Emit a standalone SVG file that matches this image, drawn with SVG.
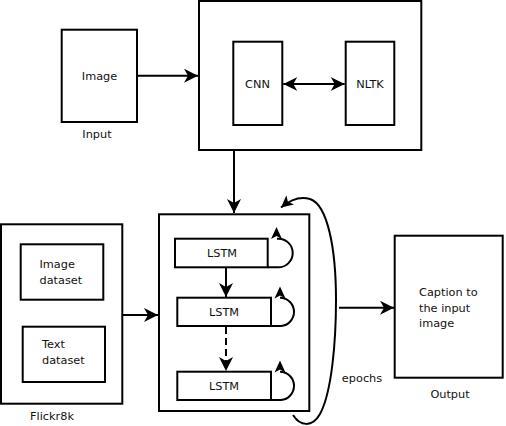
<svg xmlns="http://www.w3.org/2000/svg" xmlns:xlink="http://www.w3.org/1999/xlink" width="506" height="426" viewBox="0 0 506 426">
<style>
.box{fill:#fff;stroke:#000;stroke-width:2}
.frame{fill:none;stroke:#000;stroke-width:2}
.ln{fill:none;stroke:#000;stroke-width:2}
text{font-family:"DejaVu Sans",Verdana,sans-serif;font-size:11.3px;fill:#111}
.c{text-anchor:middle}
</style>
<defs>
<marker id="ah" markerUnits="userSpaceOnUse" viewBox="0 0 14 14" markerWidth="14" markerHeight="14" refX="14" refY="7" orient="auto-start-reverse">
<path d="M0,0 L14,7 L0,14 L4,7 z" fill="#000"/>
</marker>
<marker id="ahs" markerUnits="userSpaceOnUse" viewBox="0 0 12 12" markerWidth="12" markerHeight="12" refX="12" refY="6" orient="auto">
<path d="M0,0 L12,6 L0,12 L3,6 z" fill="#000"/>
</marker>
<path id="loopHead" d="M0,0 L-5.5,12 L0,9 L5.5,12 z" fill="#000"/>
</defs>
<rect width="506" height="426" fill="#fff"/>
<g id="image">
<rect class="box" x="61.7" y="29.7" width="75.3" height="92.3"/>
<text class="c" x="99.5" y="79.5">Image</text>
</g>
<text class="c" x="97" y="138">Input</text>
<g id="encoder">
<rect class="frame" x="199" y="1" width="222.3" height="149"/>
</g>
<g id="cnn">
<rect class="box" x="233.3" y="41.7" width="49" height="83.3"/>
<text class="c" x="257.5" y="88">CNN</text>
</g>
<g id="nltk">
<rect class="box" x="345.7" y="41.7" width="48.6" height="83.3"/>
<text class="c" x="370" y="88">NLTK</text>
</g>
<g id="flickr8k">
<rect class="frame" x="1" y="224.3" width="121.3" height="179.4"/>
<text class="c" x="52" y="420">Flickr8k</text>
</g>
<g id="image-dataset">
<rect class="box" x="20.7" y="244.3" width="82.6" height="55.4"/>
<text x="39.5" y="268">Image</text>
<text x="39.5" y="284">dataset</text>
</g>
<g id="text-dataset">
<rect class="box" x="22.7" y="326.7" width="82.3" height="55.3"/>
<text x="42" y="348">Text</text>
<text x="42" y="364">dataset</text>
</g>
<g id="lstm-block">
<rect class="frame" x="159" y="214.3" width="150.3" height="196.7"/>
</g>
<g id="lstm1">
<rect class="box" x="175" y="238.7" width="92.7" height="28.6"/>
<text class="c" x="222" y="257">LSTM</text>
</g>
<g id="lstm2">
<rect class="box" x="177.3" y="297.7" width="93.7" height="28.3"/>
<text class="c" x="224" y="316">LSTM</text>
</g>
<g id="lstm3">
<rect class="box" x="177.3" y="371.7" width="93.7" height="28.3"/>
<text class="c" x="224" y="390">LSTM</text>
</g>
<text class="c" x="362" y="382">epochs</text>
<g id="output">
<rect class="box" x="394.7" y="235.7" width="108" height="142"/>
<text x="419" y="296">Caption to</text>
<text x="419" y="311.5">the input</text>
<text x="419" y="327">image</text>
</g>
<text class="c" x="450" y="398">Output</text>
<g id="connectors">
<path class="ln" d="M138 75.7 L198 75.7" marker-end="url(#ah)"/>
<path class="ln" d="M283.3 84 L344.7 84" marker-start="url(#ah)" marker-end="url(#ah)"/>
<path class="ln" d="M234 151 L234 213" marker-end="url(#ah)"/>
<path class="ln" d="M226 268 L226 297" marker-end="url(#ah)"/>
<path class="ln" d="M226 327 L226 371" stroke-dasharray="7 4" marker-end="url(#ah)"/>
<path class="ln" d="M123 315 L158 315" marker-end="url(#ah)"/>
<path class="ln" d="M339 307.7 L394 307.7" marker-end="url(#ah)"/>
<path class="ln" d="M293 415 C300 426 312 428 320 414 C332 392 336 340 336 300 C336 250 328 205 310 199 C300 196 290 200 281 207.5" marker-end="url(#ahs)" stroke-width="1.6"/>
<path class="ln" d="M267.7 267.3 L278.4 267.3 A14.3 14.3 0 0 0 278.4 238.7 L277 238.7"/>
<use xlink:href="#loopHead" x="276.5" y="227"/>
<path class="ln" d="M271 326 L281 326 A14.2 14.2 0 0 0 281 297.7 L280 297.7"/>
<use xlink:href="#loopHead" x="280" y="286.5"/>
<path class="ln" d="M271 400 L281 400 A14.2 14.2 0 0 0 281 371.7 L280 371.7"/>
<use xlink:href="#loopHead" x="280" y="360.5"/>
</g>
</svg>
